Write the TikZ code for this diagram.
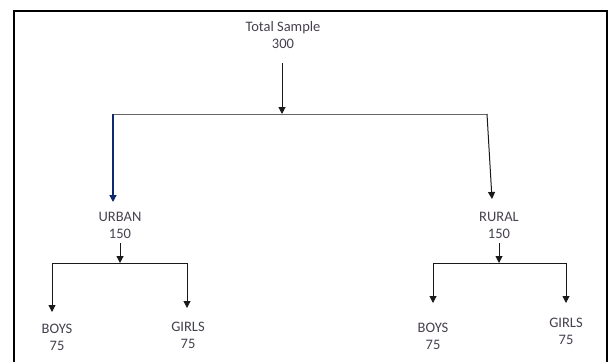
\documentclass[tikz,border=0pt]{standalone}
\usepackage{fontspec}
\setmainfont{Carlito}
\usepackage{xcolor}
\usetikzlibrary{positioning,arrows.meta}

\definecolor{txtgray}{RGB}{70,64,78}
\definecolor{linegray}{RGB}{25,25,25}
\definecolor{navy}{RGB}{15,40,110}

\begin{document}
\begin{tikzpicture}[x=1pt,y=-1pt,
    label/.style={align=center, text=txtgray, inner sep=0pt,
        font=\fontsize{14.5}{17}\selectfont},
    link/.style={draw=linegray, line width=1pt, -{Triangle[width=7pt,length=7pt]}},
    bar/.style={draw=linegray, line width=1pt}]
\useasboundingbox (0,0) rectangle (609,361);

% Frame
\draw[line width=2.6pt] (14,365) -- (14,11) -- (607,11) -- (607,365);

% Labels
\node[label] (total) at (283,35) {Total Sample\\300};
\node[label] (urban) at (120,225.5) {URBAN\\150};
\node[label] (rural) at (499,225.5) {RURAL\\150};
\node[label] (uboys) at (57,337) {BOYS\\75};
\node[label] (ugirls) at (188,335) {GIRLS\\75};
\node[label] (rboys) at (433,336) {BOYS\\75};
\node[label] (rgirls) at (566,331) {GIRLS\\75};

% Split points
\coordinate (tstart) at (282,63);
\coordinate (split) at (282,114);
\coordinate (uturn) at (113,114);
\coordinate (rturn) at (487,114);
\coordinate (utip) at (113,202);
\coordinate (rtip) at (492,199);
\coordinate (ustart) at (120,243);
\coordinate (usplit) at (120,263);
\coordinate (ubarl) at (52,263);
\coordinate (ubarr) at (187,263);
\coordinate (rstart) at (499,243);
\coordinate (rsplit) at (499,263);
\coordinate (rbarl) at (433,263);
\coordinate (rbarr) at (566,263);

% Top level
\draw[link] (tstart) -- (split);
\draw[bar, draw=gray!80!black] (uturn) -- (rturn);
\draw[link, line width=1.3pt, draw=navy, fill=navy] (uturn) -- (utip);
\draw[link] (rturn) -- (rtip);

% Urban
\draw[link] (ustart) -- (usplit);
\draw[bar] (ubarl) -- (ubarr);
\draw[link] (ubarl) -- (52,312);
\draw[link] (ubarr) -- (187,308);

% Rural
\draw[link] (rstart) -- (rsplit);
\draw[bar] (rbarl) -- (rbarr);
\draw[link] (rbarl) -- (433,303);
\draw[link] (rbarr) -- (566,303);
\end{tikzpicture}
\end{document}
